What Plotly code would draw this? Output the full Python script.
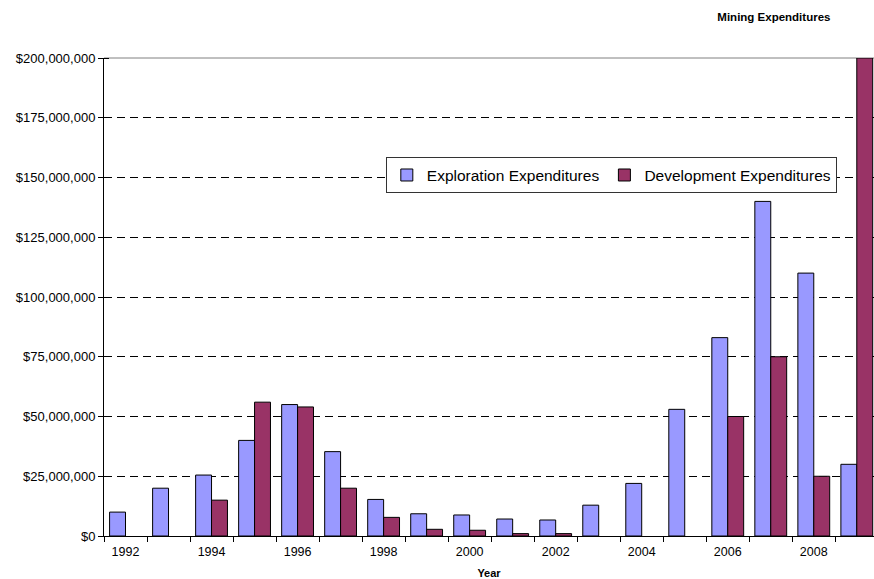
import plotly.graph_objects as go

# Annual mining spend, 1992-2009 (USD); None = no development spending reported
years = list(range(1992, 2010))
exploration = [10e6, 20e6, 25.5e6, 40e6, 55e6, 35.3e6, 15.3e6, 9.3e6, 8.8e6, 7.1e6,
               6.7e6, 12.9e6, 22e6, 53e6, 83e6, 140e6, 110e6, 30e6]
development = [None, None, 15e6, 56e6, 54e6, 20e6, 7.8e6, 2.8e6, 2.4e6, 1.0e6,
               1.0e6, None, None, None, 50e6, 75e6, 25e6, 200e6]
label_years = list(range(1992, 2009, 2))
y_ticks = [i * 25e6 for i in range(9)]

FONT = "Arial, Liberation Sans, sans-serif"

fig = go.Figure()
fig.add_trace(go.Bar(
    x=years, y=exploration, name="Exploration Expenditures",
    marker=dict(color="#9999FF", line=dict(color="#000000", width=1)),
))
fig.add_trace(go.Bar(
    x=years, y=development, name="Development Expenditures",
    marker=dict(color="#993366", line=dict(color="#000000", width=1)),
))

# solid grey frame line across the top of the plot area
fig.add_shape(type="line", xref="paper", yref="paper", x0=0, x1=1, y0=1, y1=1,
              line=dict(color="#808080", width=1), layer="between")

fig.update_layout(
    width=874, height=579,
    margin=dict(l=104, r=0, t=58, b=41),
    paper_bgcolor="white", plot_bgcolor="white",
    font=dict(family=FONT, color="black", size=12),
    barmode="group", bargap=0.26, bargroupgap=0,
    title=dict(text="<b>Mining Expenditures</b>", font=dict(size=11.5, family=FONT),
               x=0.870, xref="paper", xanchor="center",
               y=0.971, yref="container", yanchor="middle"),
    legend=dict(orientation="h", x=0.366, xanchor="left", y=0.792, yanchor="top",
                bgcolor="white", bordercolor="#333333", borderwidth=1,
                font=dict(size=15.5, family=FONT), traceorder="normal",
                itemwidth=30),
    showlegend=True,
    xaxis=dict(
        range=[1991.5, 2009.4],
        tickmode="array", tickvals=label_years, ticktext=[str(y) for y in label_years],
        ticks="", showgrid=False, zeroline=False,
        showline=True, linecolor="black", linewidth=1,
        tickfont=dict(size=12.5, family=FONT), ticklabelstandoff=4,
        minor=dict(tick0=1991.5, dtick=1, ticks="outside", ticklen=5,
                   tickcolor="black", tickwidth=1, showgrid=False),
        title=dict(text="<b>Year</b>", font=dict(size=11, family=FONT), standoff=12),
    ),
    yaxis=dict(
        range=[0, 200e6],
        tickmode="array", tickvals=y_ticks, tickformat="$,.0f",
        ticks="outside", ticklen=5, tickcolor="black",
        showline=True, linecolor="black", linewidth=1,
        showgrid=True, gridcolor="black", gridwidth=1, griddash="8px,5px",
        zeroline=False,
        tickfont=dict(size=13, family=FONT),
        minor=dict(tick0=0, dtick=25e6, ticks="inside", ticklen=5,
                   tickcolor="black", tickwidth=1, showgrid=False),
    ),
)

fig.write_html("out.html")
